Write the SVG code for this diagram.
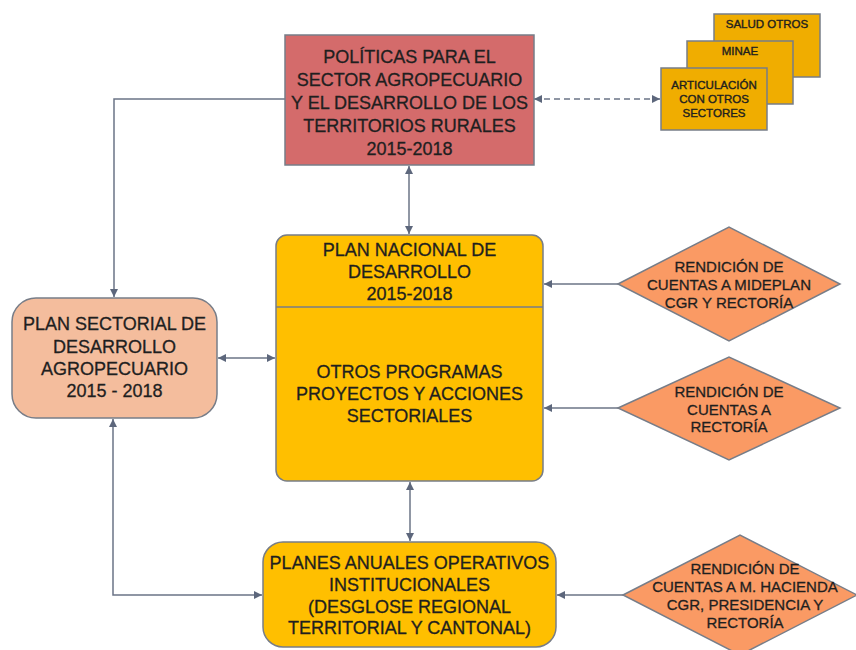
<svg xmlns="http://www.w3.org/2000/svg" width="856" height="650" viewBox="0 0 856 650">
<defs>
<marker id="ah" viewBox="0 0 10 10" refX="10" refY="5" markerWidth="8" markerHeight="8" markerUnits="userSpaceOnUse" orient="auto-start-reverse">
<path d="M0,0 L10,5 L0,10 z" fill="#5d677c"/>
</marker>
<style>
text{font-family:"Liberation Sans",Arial,sans-serif;fill:#1f1f1f;stroke:#1f1f1f;stroke-width:0.3;text-anchor:middle}
.t18{font-size:18px}
.t15{font-size:15px}
.t11{font-size:11.5px;stroke-width:0.4}
.box{stroke:#777d88;stroke-width:1.5}
.con{fill:none;stroke:#6b7486;stroke-width:1.5}
</style>
</defs>
<rect width="856" height="650" fill="#ffffff"/>
<g id="connectors">
<path class="con" d="M285,99 H114 V297" marker-end="url(#ah)"/>
<path class="con" d="M534,99 H660" stroke-dasharray="6,4" marker-start="url(#ah)" marker-end="url(#ah)"/>
<path class="con" d="M409,166 V234" marker-start="url(#ah)" marker-end="url(#ah)"/>
<path class="con" d="M218,358 H275" marker-start="url(#ah)" marker-end="url(#ah)"/>
<path class="con" d="M618,284 H544" marker-end="url(#ah)"/>
<path class="con" d="M618,408 H544" marker-end="url(#ah)"/>
<path class="con" d="M410,482 V541" marker-start="url(#ah)" marker-end="url(#ah)"/>
<path class="con" d="M113,419 V595 H262" marker-start="url(#ah)" marker-end="url(#ah)"/>
<path class="con" d="M623,595 H557" marker-end="url(#ah)"/>
</g>
<g id="politicas">
<rect class="box" x="285" y="35" width="249" height="130" fill="#d46b6b"/>
<text class="t18" x="409.5" y="63">POLÍTICAS PARA EL</text>
<text class="t18" x="409.5" y="86">SECTOR AGROPECUARIO</text>
<text class="t18" x="409.5" y="109">Y EL DESARROLLO DE LOS</text>
<text class="t18" x="409.5" y="132">TERRITORIOS RURALES</text>
<text class="t18" x="409.5" y="155">2015-2018</text>
</g>
<g id="salud">
<rect class="box" x="714" y="14" width="106" height="63" fill="#f0ad00"/>
<text class="t11" x="767" y="28">SALUD OTROS</text>
</g>
<g id="minae">
<rect class="box" x="687" y="41" width="106" height="63" fill="#f0ad00"/>
<text class="t11" x="740" y="55">MINAE</text>
</g>
<g id="articulacion">
<rect class="box" x="661" y="68" width="106" height="62" fill="#f0ad00"/>
<text class="t11" x="714" y="89">ARTICULACIÓN</text>
<text class="t11" x="714" y="103">CON OTROS</text>
<text class="t11" x="714" y="117">SECTORES</text>
</g>
<g id="plan-nacional">
<rect class="box" x="276" y="235" width="267" height="246" rx="11" fill="#ffbf00"/>
<line class="box" x1="276" y1="307" x2="543" y2="307"/>
<text class="t18" x="409.5" y="256">PLAN NACIONAL DE</text>
<text class="t18" x="409.5" y="278">DESARROLLO</text>
<text class="t18" x="409.5" y="300">2015-2018</text>
<text class="t18" x="409.5" y="378">OTROS PROGRAMAS</text>
<text class="t18" x="409.5" y="400">PROYECTOS Y ACCIONES</text>
<text class="t18" x="409.5" y="422">SECTORIALES</text>
</g>
<g id="plan-sectorial">
<rect class="box" x="12" y="298" width="205" height="120" rx="24" fill="#f4bd9d"/>
<text class="t18" x="114.5" y="330">PLAN SECTORIAL DE</text>
<text class="t18" x="114.5" y="353">DESARROLLO</text>
<text class="t18" x="114.5" y="375">AGROPECUARIO</text>
<text class="t18" x="114.5" y="397">2015 - 2018</text>
</g>
<g id="rendicion-mideplan">
<polygon class="box" points="618,284 729,227 840,284 729,341" fill="#fa9a64" stroke-width="1"/>
<text class="t15" x="729" y="272">RENDICIÓN DE</text>
<text class="t15" x="729" y="290">CUENTAS A MIDEPLAN</text>
<text class="t15" x="729" y="308">CGR Y RECTORÍA</text>
</g>
<g id="rendicion-rectoria">
<polygon class="box" points="618,408 729,357 840,408 729,460" fill="#fa9a64" stroke-width="1"/>
<text class="t15" x="729" y="397">RENDICIÓN DE</text>
<text class="t15" x="729" y="415">CUENTAS A</text>
<text class="t15" x="729" y="432">RECTORÍA</text>
</g>
<g id="planes-anuales">
<rect class="box" x="263" y="542" width="293" height="105" rx="20" fill="#ffbf00"/>
<text class="t18" x="409.5" y="569">PLANES ANUALES OPERATIVOS</text>
<text class="t18" x="409.5" y="591">INSTITUCIONALES</text>
<text class="t18" x="409.5" y="613">(DESGLOSE REGIONAL</text>
<text class="t18" x="409.5" y="634">TERRITORIAL Y CANTONAL)</text>
</g>
<g id="rendicion-hacienda">
<polygon class="box" points="623,595 740,535 857,595 740,655" fill="#fa9a64" stroke-width="1"/>
<text class="t15" x="745" y="574">RENDICIÓN DE</text>
<text class="t15" x="745" y="592">CUENTAS A M. HACIENDA</text>
<text class="t15" x="745" y="610">CGR, PRESIDENCIA Y</text>
<text class="t15" x="745" y="628">RECTORÍA</text>
</g>
</svg>
